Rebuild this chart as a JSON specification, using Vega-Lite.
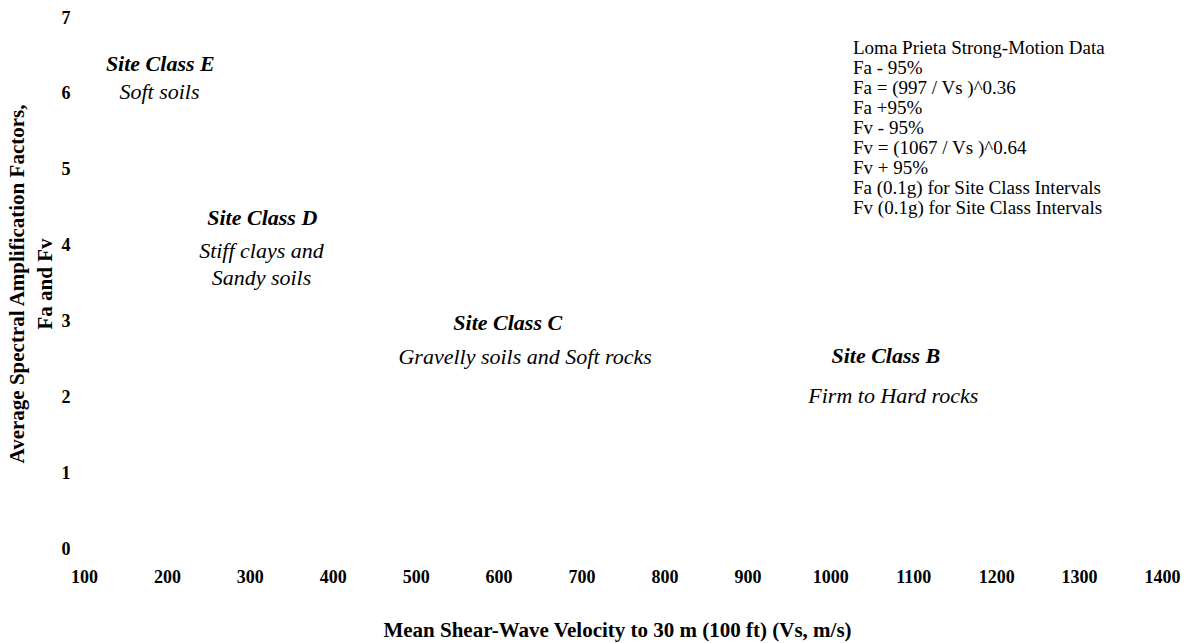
{
  "$schema": "https://vega.github.io/schema/vega-lite/v6.json",
  "width": 1078,
  "height": 531,
  "autosize": {"type": "none"},
  "padding": {"left": 84, "top": 18, "right": 34, "bottom": 94},
  "background": "white",
  "config": {
    "view": {"stroke": null},
    "font": "Liberation Serif",
    "axis": {"domain": false, "ticks": false, "grid": false, "labelFont": "Liberation Serif", "labelFontWeight": "bold", "labelFontSize": 18, "labelColor": "black", "titleFont": "Liberation Serif", "titleFontWeight": "bold", "titleColor": "black"}
  },
  "layer": [
    {
      "data": {"values": [
        {"series": "Loma Prieta Strong-Motion Data", "vs": null, "f": null},
        {"series": "Fa - 95%", "vs": null, "f": null},
        {"series": "Fa = (997 / Vs )^0.36", "vs": null, "f": null},
        {"series": "Fa +95%", "vs": null, "f": null},
        {"series": "Fv - 95%", "vs": null, "f": null},
        {"series": "\u00a0Fv = (1067 / Vs )^0.64", "vs": null, "f": null},
        {"series": "Fv + 95%", "vs": null, "f": null},
        {"series": "Fa (0.1g) for Site Class Intervals", "vs": null, "f": null},
        {"series": "Fv (0.1g) for Site Class Intervals", "vs": null, "f": null}
      ]},
      "mark": {"type": "point", "opacity": 0},
      "encoding": {
        "x": {"field": "vs", "type": "quantitative", "scale": {"domain": [100, 1400], "nice": false, "zero": false},
          "axis": {"values": [100,200,300,400,500,600,700,800,900,1000,1100,1200,1300,1400], "format": "d", "labelPadding": 19, "titlePadding": 33, "titleFontSize": 21, "title": "Mean Shear-Wave Velocity to 30 m (100 ft) (Vs, m/s)", "titleX": 533, "labelFlush": false}},
        "y": {"field": "f", "type": "quantitative", "scale": {"domain": [0, 7], "nice": false},
          "axis": {"values": [0,1,2,3,4,5,6,7], "format": "d", "labelPadding": 14, "titlePadding": 6, "titleFontSize": 21, "title": ["Average Spectral Amplification Factors,", "Fa and Fv"], "titleLineHeight": 28, "labelFlush": false}},
        "color": {"field": "series", "type": "nominal",
          "scale": {"domain": ["Loma Prieta Strong-Motion Data", "Fa - 95%", "Fa = (997 / Vs )^0.36", "Fa +95%", "Fv - 95%", "\u00a0Fv = (1067 / Vs )^0.64", "Fv + 95%", "Fa (0.1g) for Site Class Intervals", "Fv (0.1g) for Site Class Intervals"], "range": ["white"]},
          "legend": {"title": null, "orient": "none", "legendX": 750, "legendY": 20, "symbolOpacity": 0, "symbolSize": 1, "symbolStrokeWidth": 0, "labelOffset": 0, "labelFont": "Liberation Serif", "labelFontSize": 19, "labelColor": "black", "rowPadding": -1.2, "labelLimit": 400}}
      }
    },
    {
      "data": {"values": [
        {"vs": 192, "f": 6.39, "label": "Site Class E"},
        {"vs": 315, "f": 4.37, "label": "Site Class D"},
        {"vs": 611, "f": 2.98, "label": "Site Class C"},
        {"vs": 1067, "f": 2.54, "label": "Site Class B"}
      ]},
      "mark": {"type": "text", "font": "Liberation Serif", "fontStyle": "italic", "fontWeight": "bold", "fontSize": 22, "align": "center", "baseline": "middle", "color": "black"},
      "encoding": {
        "x": {"field": "vs", "type": "quantitative"},
        "y": {"field": "f", "type": "quantitative"},
        "text": {"field": "label"}
      }
    },
    {
      "data": {"values": [
        {"vs": 191, "f": 6.02, "label": "Soft soils"},
        {"vs": 314, "f": 3.93, "label": "Stiff clays and"},
        {"vs": 314, "f": 3.57, "label": "Sandy soils"},
        {"vs": 632, "f": 2.53, "label": "Gravelly soils and Soft rocks"},
        {"vs": 1076, "f": 2.02, "label": "Firm to Hard rocks"}
      ]},
      "mark": {"type": "text", "font": "Liberation Serif", "fontStyle": "italic", "fontSize": 22, "align": "center", "baseline": "middle", "color": "black"},
      "encoding": {
        "x": {"field": "vs", "type": "quantitative"},
        "y": {"field": "f", "type": "quantitative"},
        "text": {"field": "label"}
      }
    }
  ]
}
